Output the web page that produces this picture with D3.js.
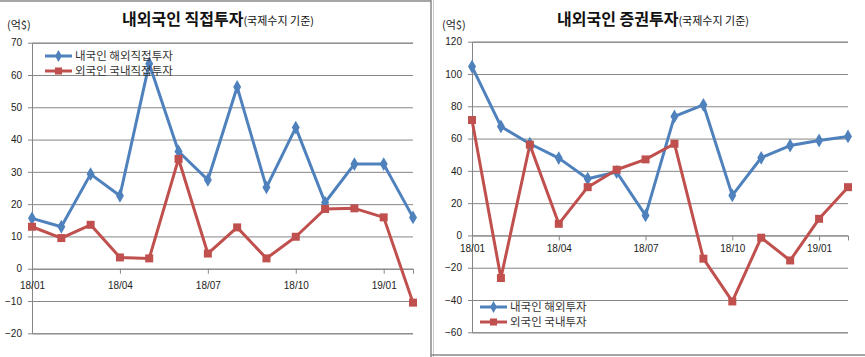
<!DOCTYPE html>
<html><head><meta charset="utf-8">
<script src="https://cdn.jsdelivr.net/npm/d3@7"></script>
<style>
body{margin:0;background:#fff;}
svg{display:block;font-family:"Noto Sans CJK KR","Noto Sans",sans-serif;}
</style></head>
<body><svg id="c" width="865" height="357"></svg>
<script>
const months = ["18/01","18/02","18/03","18/04","18/05","18/06","18/07","18/08","18/09","18/10","18/11","18/12","19/01","19/02"];
const tickMonths = ["18/01","18/04","18/07","18/10","19/01"];

const fdiTitle = "내외국인 직접투자";
const fdiNames = ["내국인 해외직접투자","외국인 국내직접투자"];
const fdiOutward = [15.6,13.0,29.3,22.6,63.5,36.3,27.5,56.3,25.2,43.7,20.5,32.4,32.4,15.9];
const fdiInward  = [13.0,9.5,13.6,3.5,3.2,34.0,4.7,12.8,3.2,9.9,18.5,18.7,15.9,-10.5];
const fdiTicks = [-20,-10,0,10,20,30,40,50,60,70];

const portTitle = "내외국인 증권투자";
const portNames = ["내국인 해외투자","외국인 국내투자"];
const portOutward = [104.6,67.5,56.8,47.9,35.1,39.3,12.4,73.7,80.9,24.8,48.1,55.7,58.8,61.3];
const portInward  = [71.5,-26.4,56.2,7.2,29.9,40.7,47.1,56.8,-14.4,-40.9,-1.4,-15.5,10.3,29.9];
const portTicks = [-60,-40,-20,0,20,40,60,80,100,120];

const subTitle = "(국제수지 기준)";
const unit = "(억$)";
const colors = ["#4F81BD","#C0504D"];

const svg = d3.select("#c");

svg.append("line").attr("x1",0).attr("x2",431).attr("y1",1).attr("y2",1).attr("stroke","#888").attr("stroke-width",1.5);
svg.append("line").attr("x1",431).attr("x2",431).attr("y1",0).attr("y2",357).attr("stroke","#888").attr("stroke-width",1.5);
svg.append("line").attr("x1",433.5).attr("x2",433.5).attr("y1",0).attr("y2",357).attr("stroke","#ccc").attr("stroke-width",1);
svg.append("line").attr("x1",431).attr("x2",865).attr("y1",355).attr("y2",355).attr("stroke","#888").attr("stroke-width",1.5);

function panel(cfg){
  const g = svg.append("g");
  const x = d3.scalePoint().domain(months).range(cfg.xr);
  const y = d3.scaleLinear().domain(d3.extent(cfg.ticks)).range(cfg.yr);
  const yAxis = d3.axisLeft(y).tickValues(cfg.ticks).tickSize(-(cfg.xr[1]-cfg.xr[0])).tickPadding(10).tickFormat(d3.format("d"));
  const ga = g.append("g").attr("transform",`translate(${cfg.xr[0]},0)`).call(yAxis);
  ga.select(".domain").attr("stroke","#868686");
  ga.selectAll(".tick line").attr("stroke","#868686");
  ga.selectAll(".tick text").attr("fill","#222").attr("font-size",10).attr("font-family","Liberation Sans, Arial, sans-serif");
  ga.selectAll(".tick").append("line").attr("x1",-4).attr("x2",0).attr("stroke","#868686");
  const xAxis = d3.axisBottom(x).tickValues(tickMonths).tickSize(5).tickPadding(cfg.xpad);
  const gx = g.append("g").attr("transform",`translate(0,${y(0)})`).call(xAxis);
  gx.select(".domain").attr("stroke","#868686");
  gx.selectAll(".tick line").attr("stroke","#868686");
  gx.selectAll(".tick text").attr("fill","#222").attr("font-size",10).attr("font-family","Liberation Sans, Arial, sans-serif");

  const line = d3.line().x((d,i)=>x(months[i])).y(d=>y(d));
  cfg.series.forEach((s,k)=>{
    g.append("path").datum(s).attr("d",line).attr("fill","none").attr("stroke",colors[k]).attr("stroke-width",3).attr("stroke-linejoin","round");
  });
  cfg.series.forEach((s,k)=>{
    const sym = k===0 ? d3.symbol(d3.symbolDiamond,55) : d3.symbol(d3.symbolSquare,64);
    g.selectAll(null).data(s).enter().append("path")
      .attr("d",sym).attr("transform",(d,i)=>`translate(${x(months[i])},${y(d)})`)
      .attr("fill",colors[k]);
  });
  cfg.names.forEach((n,k)=>{
    const ly = cfg.leg[1] + k*cfg.legStep;
    g.append("line").attr("x1",cfg.leg[0]).attr("x2",cfg.leg[0]+27).attr("y1",ly).attr("y2",ly).attr("stroke",colors[k]).attr("stroke-width",3);
    const sym = k===0 ? d3.symbol(d3.symbolDiamond,40) : d3.symbol(d3.symbolSquare,50);
    g.append("path").attr("d",sym).attr("transform",`translate(${cfg.leg[0]+13.5},${ly})`).attr("fill",colors[k]);
    g.append("text").attr("x",cfg.leg[0]+30).attr("y",ly).attr("dy","0.35em").attr("font-size",cfg.legFont).attr("fill","#333").text(n);
  });
  const t = g.append("text").attr("x",cfg.tx).attr("y",25).attr("text-anchor","middle").attr("fill","#111");
  t.append("tspan").attr("font-size",16).attr("font-weight","bold").text(cfg.title);
  t.append("tspan").attr("font-size",11).text(subTitle);
  g.append("text").attr("x",cfg.ux).attr("y",29).attr("font-size",11).attr("fill","#222").text(unit);
}

panel({xr:[32,413], yr:[333.3,42.7], ticks:fdiTicks, series:[fdiOutward,fdiInward], names:fdiNames,
  leg:[45,56], legStep:15, legFont:11.5, title:fdiTitle, tx:218, ux:7, xpad:8});
panel({xr:[472,848], yr:[332.3,41.7], ticks:portTicks, series:[portOutward,portInward], names:portNames,
  leg:[480,307], legStep:15, legFont:11.5, title:portTitle, tx:653, ux:442, xpad:4});
</script></body></html>
